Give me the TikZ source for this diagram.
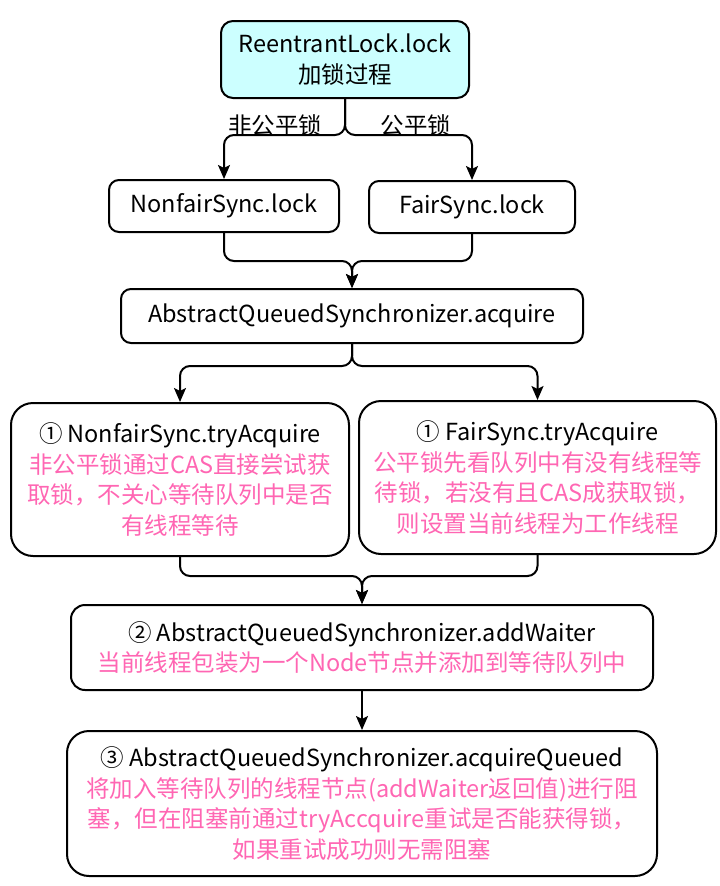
\documentclass[tikz,border=0pt]{standalone}
\usepackage{xcolor}
\usepackage{fontspec}
\setmainfont{Noto Sans CJK SC}
\usepackage{tikz}
\usetikzlibrary{arrows.meta, shapes, backgrounds}

\definecolor{headfill}{HTML}{CCFFFF}
\definecolor{notepink}{HTML}{FF66B3}
\newcommand{\note}[1]{\textcolor{notepink}{#1}}

\begin{document}
\begin{tikzpicture}[x=1pt, y=-1pt, background rectangle/.style={fill=white}, show background rectangle]
\useasboundingbox (0,0) rectangle (720,886);
\begin{scope}[every node/.style={rectangle, draw, line width=2pt, align=center,
              font=\fontsize{23.5}{30.5}\selectfont, inner sep=0pt}]
  \node[fill=headfill, rounded corners=12pt, minimum width=248pt, minimum height=77pt] (root) at (345,59.5) {ReentrantLock.lock\\加锁过程};
    \node[rounded corners=10pt, minimum width=230pt, minimum height=52pt] (nfl) at (224,206) {NonfairSync.lock};
    \node[rounded corners=10pt, minimum width=206pt, minimum height=52pt] (fl) at (472,207) {FairSync.lock};
    \node[rounded corners=10pt, minimum width=462pt, minimum height=54pt] (acq) at (352,316) {AbstractQueuedSynchronizer.acquire};
    \node[rounded corners=22pt, minimum width=338pt, minimum height=153pt] (nft) at (180,479.5) {① NonfairSync.tryAcquire\\\note{非公平锁通过CAS直接尝试获}\\\note{取锁，不关心等待队列中是否}\\\note{有线程等待}};
    \node[rounded corners=22pt, minimum width=357pt, minimum height=153pt] (ft) at (537.5,477.5) {① FairSync.tryAcquire\\\note{公平锁先看队列中有没有线程等}\\\note{待锁，若没有且CAS成获取锁，}\\\note{则设置当前线程为工作线程}};
    \node[rounded corners=14pt, minimum width=582pt, minimum height=85pt] (aw) at (362,647.5) {② AbstractQueuedSynchronizer.addWaiter\\\note{当前线程包装为一个Node节点并添加到等待队列中}};
    \node[rounded corners=22pt, minimum width=590pt, minimum height=145pt] (aq) at (362,803.5) {③ AbstractQueuedSynchronizer.acquireQueued\\\note{将加入等待队列的线程节点(addWaiter返回值)进行阻}\\\note{塞，但在阻塞前通过tryAccquire重试是否能获得锁，}\\\note{如果重试成功则无需阻塞}};
\end{scope}

\begin{scope}[every node/.style={font=\fontsize{23.5}{28}\selectfont}]
    \node (nflabel) at (275,126) {非公平锁};
    \node (flabel) at (416,126) {公平锁};
\end{scope}

\begin{scope}[>={Stealth[length=14pt, width=12pt, inset=3pt]}, line width=2pt, rounded corners=10pt]
    \draw[->] (root.south) -- ++(0,36) -| (nfl.north);
    \draw[->] (root.south) -- ++(0,36) -| (fl.north);
    \draw[->] (nfl.south) -- ++(0,28) -| (acq.north);
    \draw[->] (fl.south) -- ++(0,27) -| (acq.north);
    \draw[->] (acq.south) -- ++(0,22) -| (nft.north);
    \draw[->] (acq.south) -- ++(0,22) -| (ft.north);
    \draw[->] (nft.south) -- ++(0,19) -| (aw.north);
    \draw[->] (ft.south) -- ++(0,21) -| (aw.north);
    \draw[->] (aw.south) -- (aq.north);
\end{scope}

\end{tikzpicture}
\end{document}
